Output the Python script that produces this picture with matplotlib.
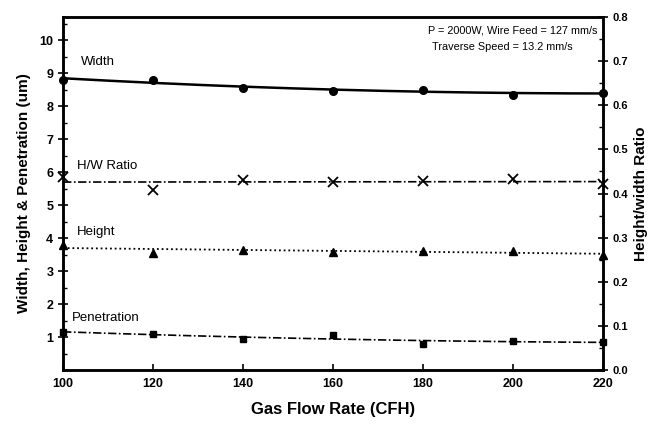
import numpy as np
import matplotlib
matplotlib.use("Agg")
import matplotlib.pyplot as plt
from matplotlib.ticker import MultipleLocator, FormatStrFormatter

plt.rcParams['font.family'] = ['Liberation Sans', 'DejaVu Sans']

gas_flow = [100, 120, 140, 160, 180, 200, 220]
width = [8.8, 8.8, 8.55, 8.45, 8.5, 8.35, 8.4]
height = [3.8, 3.55, 3.65, 3.57, 3.6, 3.62, 3.5]
penetration = [1.15, 1.1, 0.95, 1.05, 0.8, 0.88, 0.85]
hw_ratio = [0.437, 0.408, 0.430, 0.427, 0.428, 0.434, 0.422]

x_ticks = [100, 120, 140, 160, 180, 200, 220]
left_ticks = [1, 2, 3, 4, 5, 6, 7, 8, 9, 10]
right_ticks = [0.0, 0.1, 0.2, 0.3, 0.4, 0.5, 0.6, 0.7, 0.8]

fig = plt.figure(figsize=(6.57, 4.24), dpi=100)
ax = fig.add_axes([0.096, 0.127, 0.822, 0.833])
ax2 = ax.twinx()

x = np.array(gas_flow, dtype=float)
xs = np.linspace(x.min(), x.max(), 200)

def fit(y, deg=2):
    return np.polyval(np.polyfit(x, np.array(y, dtype=float), deg), xs)

# Width
ax.plot(xs, fit(width), color='black', lw=1.8, solid_capstyle='butt')
ax.plot(x, width, 'o', color='black', ms=5.5, clip_on=False, zorder=5)
# Height
ax.plot(xs, fit(height, 1), color='black', lw=1.3, linestyle=(0, (1, 1.6)))
ax.plot(x, height, '^', color='black', ms=5.5, clip_on=False, zorder=5)
# Penetration
ax.plot(xs, fit(penetration), color='black', lw=1.2, linestyle=(0, (5, 1.5, 1, 1.5)))
ax.plot(x, penetration, 's', color='black', ms=5, clip_on=False, zorder=5)
# H/W ratio (right axis)
ax2.plot(xs, fit(hw_ratio, 1), color='black', lw=1.2, linestyle=(0, (5, 1.5, 1, 1.5)))
ax2.plot(x, hw_ratio, 'x', color='black', ms=6.5, mew=1.3, clip_on=False, zorder=5)

ax.set_xlim(100, 220)
ax.set_ylim(0, 10.7)
ax2.set_ylim(0, 0.8)

ax.set_xticks(x_ticks)
ax.set_yticks(left_ticks)
ax.yaxis.set_minor_locator(MultipleLocator(0.5))
ax2.set_yticks(right_ticks)
ax2.yaxis.set_major_formatter(FormatStrFormatter('%.1f'))
ax2.yaxis.set_minor_locator(MultipleLocator(0.05))

for a in (ax, ax2):
    for s in a.spines.values():
        s.set_linewidth(1.8)

ax.tick_params(axis='x', direction='in', length=4, width=1.2, labelsize=9, pad=6)
ax.tick_params(axis='y', which='major', direction='inout', length=7, width=1.2, labelsize=9)
ax.tick_params(axis='y', which='minor', direction='in', length=3, width=1)
ax2.tick_params(axis='y', which='major', direction='inout', length=7, width=1.2, labelsize=8)
ax2.tick_params(axis='y', which='minor', direction='in', length=3, width=1)
for lab in ax.get_xticklabels() + ax.get_yticklabels() + ax2.get_yticklabels():
    lab.set_fontweight('bold')

ax.set_xlabel('Gas Flow Rate (CFH)', fontsize=12, fontweight='bold', labelpad=8)
ax.set_ylabel('Width, Height & Penetration (um)', fontsize=11, fontweight='bold', labelpad=6)
ax2.set_ylabel('Height/width Ratio', fontsize=11, fontweight='bold', labelpad=4)

ax.text(104, 9.25, 'Width', fontsize=9.5)
ax.text(103, 6.1, 'H/W Ratio', fontsize=9.5)
ax.text(103, 4.1, 'Height', fontsize=9.5)
ax.text(102, 1.5, 'Penetration', fontsize=9.5)
ax.text(0.676, 0.975, 'P = 2000W, Wire Feed = 127 mm/s', transform=ax.transAxes,
        ha='left', va='top', fontsize=7.8)
ax.text(0.683, 0.93, 'Traverse Speed = 13.2 mm/s', transform=ax.transAxes,
        ha='left', va='top', fontsize=7.8)

fig.savefig('out.png', dpi=100)
